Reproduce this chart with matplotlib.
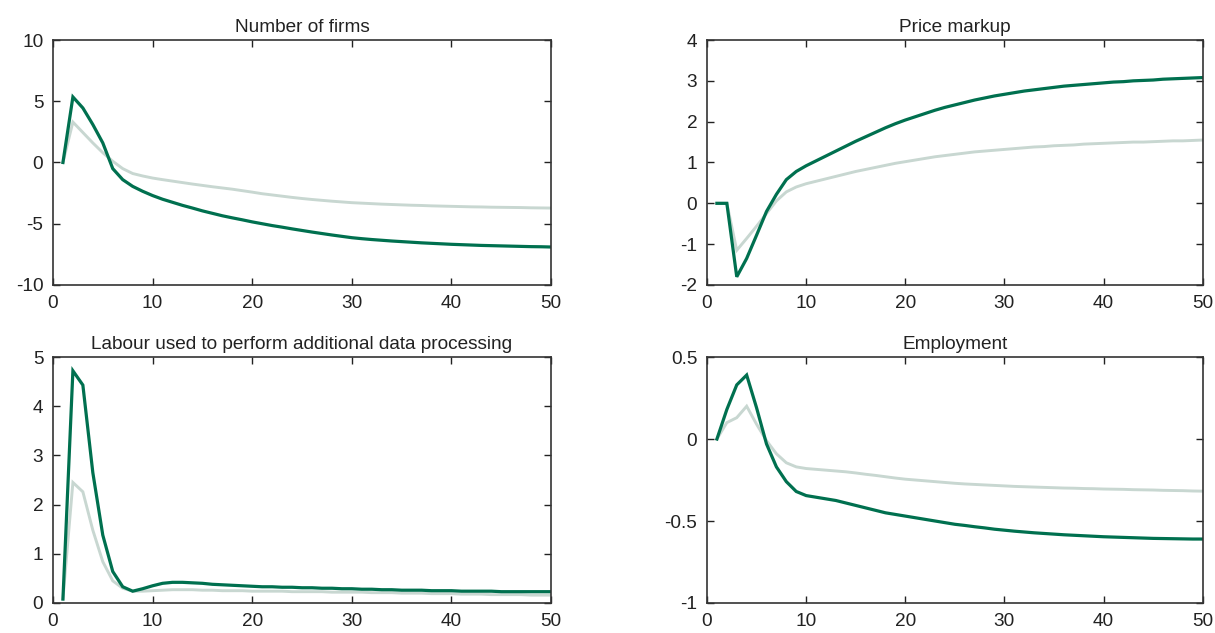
import matplotlib.pyplot as plt

plt.rcParams['font.family'] = ['Liberation Sans', 'DejaVu Sans']

periods = list(range(1, 51))

# Number of firms
firms_dark = [0.0, 5.35, 4.45, 3.1, 1.6, -0.5, -1.4, -1.95, -2.35, -2.7,
              -3.0, -3.25, -3.5, -3.72, -3.95, -4.15, -4.35, -4.52, -4.68, -4.85,
              -5.0, -5.15, -5.28, -5.42, -5.55, -5.68, -5.8, -5.92, -6.03, -6.14,
              -6.22, -6.29, -6.35, -6.41, -6.46, -6.51, -6.56, -6.6, -6.64, -6.68,
              -6.71, -6.74, -6.77, -6.79, -6.81, -6.83, -6.85, -6.87, -6.88, -6.9]
firms_light = [0.0, 3.3, 2.45, 1.6, 0.8, 0.1, -0.5, -0.9, -1.1, -1.27,
               -1.4, -1.52, -1.64, -1.76, -1.87, -1.98, -2.08, -2.18, -2.3, -2.42,
               -2.55, -2.65, -2.75, -2.85, -2.94, -3.02, -3.09, -3.16, -3.22, -3.28,
               -3.32, -3.36, -3.4, -3.43, -3.46, -3.49, -3.51, -3.54, -3.56, -3.58,
               -3.6, -3.62, -3.63, -3.65, -3.66, -3.67, -3.68, -3.7, -3.71, -3.72]

# Price markup
markup_dark = [0.0, 0.0, -1.8, -1.35, -0.78, -0.2, 0.22, 0.58, 0.78, 0.92,
               1.04, 1.16, 1.28, 1.4, 1.52, 1.63, 1.74, 1.85, 1.95, 2.04,
               2.12, 2.2, 2.28, 2.35, 2.41, 2.47, 2.53, 2.58, 2.63, 2.67,
               2.71, 2.75, 2.78, 2.81, 2.84, 2.87, 2.89, 2.91, 2.93, 2.95,
               2.97, 2.98, 3.0, 3.01, 3.02, 3.04, 3.05, 3.06, 3.07, 3.08]
markup_light = [0.0, 0.0, -1.15, -0.86, -0.56, -0.25, 0.06, 0.28, 0.4, 0.48,
                0.54, 0.6, 0.66, 0.72, 0.78, 0.83, 0.88, 0.93, 0.98, 1.02,
                1.06, 1.1, 1.14, 1.17, 1.2, 1.23, 1.26, 1.28, 1.3, 1.32,
                1.34, 1.36, 1.38, 1.39, 1.41, 1.42, 1.43, 1.45, 1.46, 1.47,
                1.48, 1.49, 1.5, 1.5, 1.51, 1.52, 1.53, 1.53, 1.54, 1.55]

# Labour used to perform additional data processing
labour_dark = [0.08, 4.72, 4.43, 2.65, 1.38, 0.64, 0.33, 0.24, 0.29, 0.35,
               0.4, 0.42, 0.42, 0.41, 0.4, 0.38, 0.37, 0.36, 0.35, 0.34,
               0.33, 0.33, 0.32, 0.32, 0.31, 0.31, 0.3, 0.3, 0.29, 0.29,
               0.28, 0.28, 0.27, 0.27, 0.26, 0.26, 0.26, 0.25, 0.25, 0.25,
               0.24, 0.24, 0.24, 0.24, 0.23, 0.23, 0.23, 0.23, 0.23, 0.23]
labour_light = [0.08, 2.45, 2.26, 1.48, 0.84, 0.45, 0.3, 0.24, 0.24, 0.25,
                0.26, 0.27, 0.27, 0.27, 0.26, 0.26, 0.25, 0.25, 0.25, 0.24,
                0.24, 0.24, 0.24, 0.23, 0.23, 0.23, 0.23, 0.22, 0.22, 0.22,
                0.22, 0.21, 0.21, 0.21, 0.2, 0.2, 0.2, 0.19, 0.19, 0.19,
                0.18, 0.18, 0.18, 0.17, 0.17, 0.17, 0.17, 0.16, 0.16, 0.16]

# Employment
employ_dark = [0.0, 0.18, 0.33, 0.39, 0.19, -0.03, -0.17, -0.26, -0.32, -0.345,
               -0.355, -0.365, -0.375, -0.39, -0.405, -0.42, -0.435, -0.45, -0.46, -0.47,
               -0.48, -0.49, -0.5, -0.51, -0.52, -0.527, -0.535, -0.542, -0.55, -0.556,
               -0.562, -0.567, -0.572, -0.576, -0.58, -0.584, -0.587, -0.59, -0.593, -0.596,
               -0.598, -0.6, -0.602, -0.604, -0.606, -0.607, -0.608, -0.609, -0.61, -0.61]
employ_light = [0.0, 0.1, 0.13, 0.2, 0.09, -0.01, -0.09, -0.145, -0.17, -0.18,
                -0.185, -0.19, -0.195, -0.2, -0.207, -0.215, -0.222, -0.23, -0.238, -0.245,
                -0.25, -0.255, -0.26, -0.265, -0.27, -0.274, -0.277, -0.28, -0.283, -0.286,
                -0.289, -0.291, -0.293, -0.295, -0.297, -0.299, -0.3, -0.302, -0.303, -0.305,
                -0.306, -0.307, -0.309, -0.31, -0.311, -0.313, -0.314, -0.315, -0.317, -0.318]

titles = ['Number of firms', 'Price markup',
          'Labour used to perform additional data processing', 'Employment']
series = [(firms_dark, firms_light), (markup_dark, markup_light),
          (labour_dark, labour_light), (employ_dark, employ_light)]
yticks = [[-10, -5, 0, 5, 10], [-2, -1, 0, 1, 2, 3, 4],
          [0, 1, 2, 3, 4, 5], [-1, -0.5, 0, 0.5]]
ylabels = [['-10', '-5', '0', '5', '10'], ['-2', '-1', '0', '1', '2', '3', '4'],
           ['0', '1', '2', '3', '4', '5'], ['-1', '-0.5', '0', '0.5']]

dark = '#00704f'
light = '#c8d7d1'

fig = plt.figure(figsize=(12.15, 6.33), dpi=100)
boxes = [[0.0436, 0.5498, 0.41, 0.387], [0.5819, 0.5498, 0.408, 0.387],
         [0.0436, 0.0474, 0.41, 0.3886], [0.5819, 0.0474, 0.408, 0.3886]]

for i in range(4):
    ax = fig.add_axes(boxes[i])
    d, l = series[i]
    ax.plot(periods, l, color=light, lw=2.1, solid_joinstyle='miter')
    ax.plot(periods, d, color=dark, lw=2.3, solid_joinstyle='miter')
    ax.set_xlim(0, 50)
    ax.set_ylim(yticks[i][0], yticks[i][-1])
    ax.set_xticks([0, 10, 20, 30, 40, 50])
    ax.set_yticks(yticks[i])
    ax.set_yticklabels(ylabels[i])
    ax.tick_params(direction='in', top=True, right=True, length=5, width=1,
                   labelsize=13.7, colors='#222222', pad=7)
    for s in ax.spines.values():
        s.set_color('#333333')
        s.set_linewidth(1.2)
    ax.set_title(titles[i], fontsize=13.7, color='#222222', pad=6)

plt.savefig('out.png', dpi=100)
